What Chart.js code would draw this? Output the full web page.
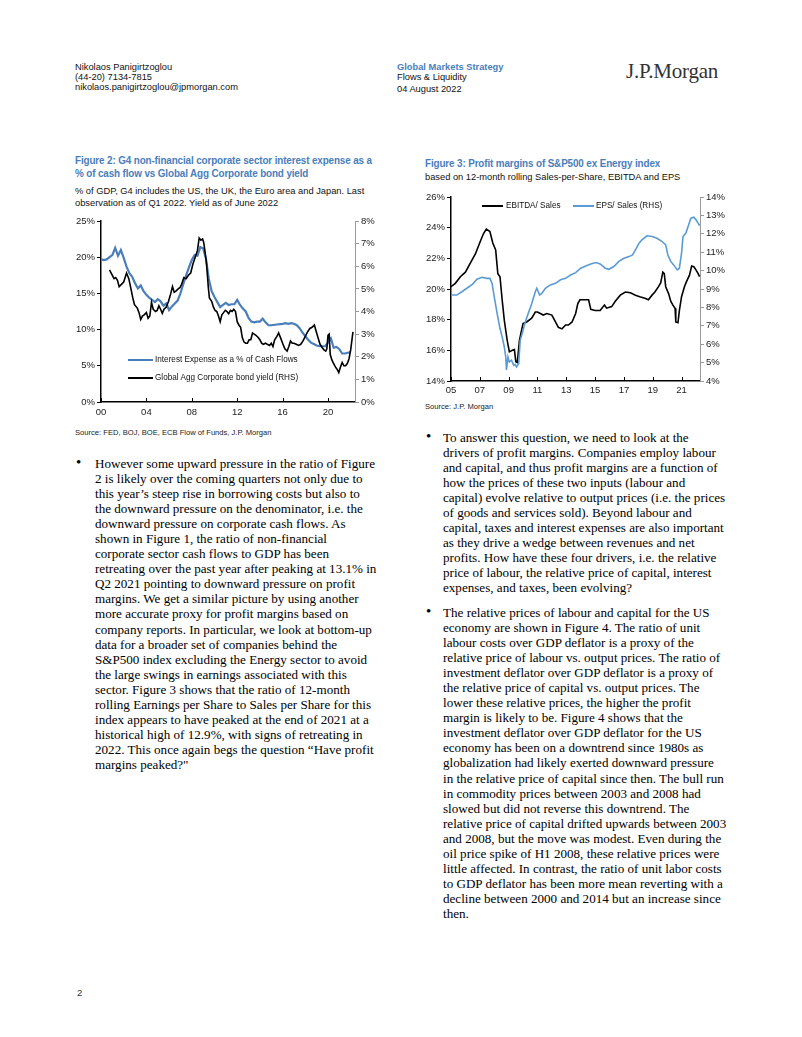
<!DOCTYPE html>
<html>
<head>
<meta charset="utf-8">
<script src="https://cdn.jsdelivr.net/npm/chart.js@4.4.1/dist/chart.umd.min.js"></script>
<style>
  html,body{margin:0;padding:0;background:#fff;}
  body{width:802px;height:1037px;position:relative;overflow:hidden;font-family:"Liberation Sans",Arial,sans-serif;color:#000;}
  .abs{position:absolute;white-space:nowrap;}
  .hdr{font-size:9.3px;line-height:10px;color:#111;}
  .blue{color:#4a7ebb;}
  .ftitle{font-size:10.6px;font-weight:bold;color:#4a7ebb;line-height:12.5px;letter-spacing:-0.15px;transform:scaleX(0.935);transform-origin:0 0;}
  .fsub{font-size:9.3px;line-height:12px;color:#111;}
  .src{font-size:7.6px;color:#222;}
  .body{font-family:"Liberation Serif","Times New Roman",serif;font-size:13.1px;line-height:15.1px;color:#000;}
  .body div{white-space:nowrap;}
  .bullet{font-family:"Liberation Serif",serif;font-size:15px;}
  .leg{font-size:9.2px;color:#111;transform:scaleX(0.89);transform-origin:0 0;}
  .legline{position:absolute;height:2px;}
  canvas{position:absolute;}
</style>
</head>
<body>
<script>
// ---------------- DATA ----------------
// Figure 2: x axis in decimal years
const fig2XTicks = [2000, 2004, 2008, 2012, 2016, 2020];
const fig2LeftTicks = [0, 5, 10, 15, 20, 25];
const fig2RightTicks = [0, 1, 2, 3, 4, 5, 6, 7, 8];
const interestDates = [2000.0,2000.25,2000.5,2000.75,2001.0,2001.25,2001.5,2001.75,2002.0,2002.25,2002.5,2002.75,2003.0,2003.25,2003.5,2003.75,2004.0,2004.25,2004.5,2004.75,2005.0,2005.25,2005.5,2005.75,2006.0,2006.25,2006.5,2006.75,2007.0,2007.25,2007.5,2007.75,2008.0,2008.25,2008.5,2008.75,2009.0,2009.25,2009.5,2009.75,2010.0,2010.25,2010.5,2010.75,2011.0,2011.25,2011.5,2011.75,2012.0,2012.25,2012.5,2012.75,2013.0,2013.25,2013.5,2013.75,2014.0,2014.25,2014.5,2014.75,2015.0,2015.5,2016.0,2016.25,2016.5,2016.75,2017.0,2017.25,2017.5,2017.75,2018.0,2018.25,2018.5,2018.75,2019.0,2019.25,2019.5,2019.75,2020.0,2020.25,2020.5,2020.75,2021.0,2021.25,2021.5,2021.75,2022.0];
const interestValues = [19.7,19.6,19.7,20.0,20.3,21.3,20.2,21.0,19.9,18.7,17.8,17.3,16.4,15.7,16.1,15.3,14.8,14.4,14.1,13.8,14.2,13.9,13.3,13.6,12.7,13.2,13.6,14.0,15.0,16.3,17.5,18.6,19.6,20.3,20.2,21.4,21.2,19.8,17.0,15.3,14.5,13.8,13.1,13.4,13.7,13.4,13.5,13.5,14.1,13.4,12.9,12.5,11.6,11.1,11.0,11.1,11.1,11.5,11.0,10.6,10.6,10.7,10.8,10.9,10.8,10.9,10.8,10.6,10.2,9.6,9.1,8.6,8.2,8.0,7.8,7.7,7.7,7.7,8.2,8.8,7.5,7.6,7.3,6.7,6.7,6.8,6.9];
const yieldDates = [2000.75,2001.0,2001.15,2001.3,2001.45,2001.6,2001.8,2002.0,2002.25,2002.45,2002.6,2002.8,2002.95,2003.2,2003.35,2003.5,2003.65,2003.8,2004.0,2004.15,2004.3,2004.45,2004.6,2004.8,2004.95,2005.1,2005.25,2005.4,2005.55,2005.75,2005.95,2006.15,2006.3,2006.45,2006.6,2006.8,2006.95,2007.1,2007.3,2007.5,2007.7,2007.9,2008.1,2008.3,2008.5,2008.65,2008.8,2008.95,2009.05,2009.15,2009.3,2009.45,2009.55,2009.75,2009.9,2010.05,2010.2,2010.35,2010.5,2010.65,2010.8,2010.95,2011.1,2011.25,2011.4,2011.55,2011.7,2011.85,2012.0,2012.15,2012.3,2012.45,2012.6,2012.75,2012.9,2013.05,2013.2,2013.35,2013.5,2013.65,2013.85,2014.0,2014.15,2014.3,2014.5,2014.65,2014.85,2015.0,2015.15,2015.3,2015.5,2015.65,2015.85,2016.0,2016.2,2016.4,2016.55,2016.7,2016.85,2017.0,2017.2,2017.4,2017.6,2017.8,2018.0,2018.2,2018.4,2018.6,2018.8,2019.0,2019.15,2019.3,2019.5,2019.65,2019.8,2019.9,2020.0,2020.1,2020.2,2020.35,2020.5,2020.65,2020.8,2020.95,2021.1,2021.25,2021.4,2021.55,2021.7,2021.85,2022.0,2022.2];
const yieldValues = [5.84,5.6,5.45,5.5,5.38,5.1,5.2,5.3,5.7,5.45,5.1,4.6,4.3,4.15,3.95,3.65,3.8,3.85,3.95,3.7,3.8,4.4,4.1,4.0,4.05,4.25,4.1,3.92,4.1,4.2,4.45,4.8,5.1,4.85,4.9,5.0,5.05,5.2,5.5,5.45,5.6,5.7,6.1,6.4,6.7,7.25,7.15,7.2,7.05,6.7,6.1,5.1,4.6,4.45,4.2,4.05,4.0,3.8,3.55,3.85,3.95,4.05,4.0,3.9,4.05,4.0,4.1,4.0,3.55,3.4,3.3,2.85,2.65,2.6,2.6,2.75,2.75,3.05,3.0,2.95,2.85,2.75,2.6,2.55,2.6,2.55,2.5,2.6,2.45,2.75,2.9,3.05,2.8,2.6,2.35,2.25,2.45,2.7,2.6,2.6,2.55,2.5,2.55,2.7,2.9,3.1,3.25,3.3,3.4,3.05,2.8,2.55,2.4,2.3,2.25,2.35,2.95,3.0,2.1,1.85,1.7,1.55,1.45,1.3,1.55,1.75,1.6,1.6,1.7,1.9,2.3,3.1];

// Figure 3
const fig3XTicks = [2005, 2007, 2009, 2011, 2013, 2015, 2017, 2019, 2021];
const fig3LeftTicks = [14, 16, 18, 20, 22, 24, 26];
const fig3RightTicks = [4, 5, 6, 7, 8, 9, 10, 11, 12, 13, 14];
const ebitdaDates = [2005.0,2005.3,2005.65,2006.0,2006.35,2006.7,2007.03,2007.25,2007.45,2007.7,2007.9,2008.1,2008.25,2008.4,2008.55,2008.7,2008.9,2009.05,2009.25,2009.4,2009.5,2009.6,2009.75,2009.85,2010.0,2010.25,2010.6,2010.85,2011.0,2011.2,2011.4,2011.65,2012.0,2012.25,2012.45,2012.7,2012.95,2013.15,2013.4,2013.65,2013.8,2013.95,2014.3,2014.55,2014.7,2015.0,2015.35,2015.65,2015.8,2016.15,2016.4,2016.75,2017.1,2017.45,2017.8,2018.1,2018.45,2018.7,2018.95,2019.15,2019.4,2019.55,2019.7,2019.8,2019.9,2020.1,2020.25,2020.4,2020.55,2020.6,2020.75,2020.85,2021.0,2021.2,2021.35,2021.55,2021.7,2021.85,2022.0,2022.15,2022.25];
const ebitdaValues = [20.15,20.37,20.8,21.1,21.7,22.3,23.1,23.6,23.9,23.75,23.0,22.55,21.0,20.8,19.3,17.95,16.65,15.9,16.0,16.05,15.25,15.2,16.65,17.1,17.75,17.85,18.1,18.5,18.5,18.4,18.3,18.4,18.3,17.85,17.5,17.4,17.65,17.65,17.85,18.4,19.05,19.3,19.3,19.3,18.67,18.6,18.6,18.95,18.75,18.85,19.2,19.6,19.8,19.75,19.6,19.5,19.4,19.3,19.6,19.8,20.15,20.4,21.1,21.0,20.15,19.7,19.2,18.95,18.75,17.85,17.8,18.6,19.5,20.15,20.5,20.9,21.5,21.45,21.25,21.0,20.8];
const epsDates = [2005.0,2005.4,2005.75,2006.1,2006.5,2006.8,2007.15,2007.5,2007.7,2007.85,2008.0,2008.2,2008.4,2008.55,2008.7,2008.8,2008.85,2008.95,2009.05,2009.2,2009.35,2009.45,2009.55,2009.7,2009.8,2010.0,2010.15,2010.4,2010.6,2010.85,2010.95,2011.15,2011.3,2011.55,2011.9,2012.25,2012.6,2012.95,2013.3,2013.65,2014.0,2014.35,2014.7,2015.05,2015.35,2015.7,2015.95,2016.3,2016.65,2017.0,2017.35,2017.6,2017.8,2018.05,2018.25,2018.6,2018.95,2019.3,2019.65,2019.9,2020.05,2020.25,2020.45,2020.7,2020.85,2021.0,2021.1,2021.3,2021.5,2021.65,2021.85,2022.0,2022.15,2022.25];
const epsValues = [8.67,8.67,8.85,9.04,9.27,9.53,9.64,9.58,9.58,9.3,8.58,7.67,6.85,6.4,5.85,5.3,4.6,5.3,5.04,5.13,4.85,4.9,4.76,4.95,6.2,6.76,7.2,7.76,8.2,8.85,9.04,8.67,8.76,9.04,9.22,9.31,9.5,9.58,9.76,9.89,10.13,10.25,10.36,10.44,10.36,10.13,10.07,10.22,10.5,10.67,10.76,10.85,11.13,11.49,11.67,11.89,11.85,11.76,11.58,11.4,10.85,10.5,10.31,10.04,10.13,10.95,11.85,12.04,12.5,12.85,12.9,12.76,12.58,12.44];
</script>

<!-- Header -->
<div class="abs hdr" style="left:75px;top:62px;">Nikolaos Panigirtzoglou<br>(44-20) 7134-7815<br>nikolaos.panigirtzoglou@jpmorgan.com</div>
<div class="abs hdr" style="left:397px;top:62px;"><span class="blue" style="font-weight:bold;">Global Markets Strategy</span><br>Flows &amp; Liquidity</div>
<div class="abs hdr" style="left:397px;top:84px;">04 August 2022</div>
<div class="abs" style="left:626px;top:59px;font-family:'Liberation Serif',serif;font-size:21px;color:#333;letter-spacing:-0.2px;">J.P.Morgan</div>

<!-- Figure 2 titles -->
<div class="abs ftitle" style="left:75px;top:154px;">Figure 2: G4 non-financial corporate sector interest expense as a<br>% of cash flow vs Global Agg Corporate bond yield</div>
<div class="abs fsub" style="left:75px;top:185px;">% of GDP, G4 includes the US, the UK, the Euro area and Japan. Last<br>observation as of Q1 2022. Yield as of June 2022</div>
<canvas id="c2" width="322" height="212" style="left:60px;top:212px;width:322px;height:212px;"></canvas>
<div class="legline" style="left:128px;top:359px;width:25px;background:#4a7ebb;"></div>
<div class="abs leg" style="left:155px;top:354px;">Interest Expense as a % of Cash Flows</div>
<div class="legline" style="left:128px;top:377px;width:25px;background:#000;"></div>
<div class="abs leg" style="left:155px;top:372px;">Global Agg Corporate bond yield (RHS)</div>
<div class="abs src" style="left:75px;top:428px;">Source: FED, BOJ, BOE, ECB Flow of Funds, J.P. Morgan</div>

<!-- Figure 3 titles -->
<div class="abs ftitle" style="left:425px;top:157px;">Figure 3: Profit margins of S&amp;P500 ex Energy index</div>
<div class="abs fsub" style="left:425px;top:171px;">based on 12-month rolling Sales-per-Share, EBITDA and EPS</div>
<canvas id="c3" width="320" height="212" style="left:410px;top:188px;width:320px;height:212px;"></canvas>
<div class="legline" style="left:482px;top:205px;width:21px;background:#000;"></div>
<div class="abs leg" style="left:506px;top:200px;">EBITDA/ Sales</div>
<div class="legline" style="left:573px;top:205px;width:21px;background:#5b9bd5;"></div>
<div class="abs leg" style="left:596px;top:200px;">EPS/ Sales (RHS)</div>
<div class="abs src" style="left:425px;top:402px;">Source: J.P. Morgan</div>

<!-- Left column text -->
<div class="abs bullet" style="left:76px;top:455px;line-height:15.1px;">•</div>
<div class="abs body" style="left:95px;top:455.5px;">
<div>However some upward pressure in the ratio of Figure</div>
<div>2 is likely over the coming quarters not only due to</div>
<div>this year’s steep rise in borrowing costs but also to</div>
<div>the downward pressure on the denominator, i.e. the</div>
<div>downward pressure on corporate cash flows. As</div>
<div>shown in Figure 1, the ratio of non-financial</div>
<div>corporate sector cash flows to GDP has been</div>
<div>retreating over the past year after peaking at 13.1% in</div>
<div>Q2 2021 pointing to downward pressure on profit</div>
<div>margins. We get a similar picture by using another</div>
<div>more accurate proxy for profit margins based on</div>
<div>company reports. In particular, we look at bottom-up</div>
<div>data for a broader set of companies behind the</div>
<div>S&amp;P500 index excluding the Energy sector to avoid</div>
<div>the large swings in earnings associated with this</div>
<div>sector. Figure 3 shows that the ratio of 12-month</div>
<div>rolling Earnings per Share to Sales per Share for this</div>
<div>index appears to have peaked at the end of 2021 at a</div>
<div>historical high of 12.9%, with signs of retreating in</div>
<div>2022. This once again begs the question “Have profit</div>
<div>margins peaked?"</div>
</div>

<!-- Right column text -->
<div class="abs bullet" style="left:426px;top:429px;line-height:15.1px;">•</div>
<div class="abs body" style="left:443px;top:429.5px;">
<div>To answer this question, we need to look at the</div>
<div>drivers of profit margins. Companies employ labour</div>
<div>and capital, and thus profit margins are a function of</div>
<div>how the prices of these two inputs (labour and</div>
<div>capital) evolve relative to output prices (i.e. the prices</div>
<div>of goods and services sold). Beyond labour and</div>
<div>capital, taxes and interest expenses are also important</div>
<div>as they drive a wedge between revenues and net</div>
<div>profits. How have these four drivers, i.e. the relative</div>
<div>price of labour, the relative price of capital, interest</div>
<div>expenses, and taxes, been evolving?</div>
</div>
<div class="abs bullet" style="left:426px;top:604px;line-height:15.1px;">•</div>
<div class="abs body" style="left:443px;top:604.5px;">
<div>The relative prices of labour and capital for the US</div>
<div>economy are shown in Figure 4. The ratio of unit</div>
<div>labour costs over GDP deflator is a proxy of the</div>
<div>relative price of labour vs. output prices. The ratio of</div>
<div>investment deflator over GDP deflator is a proxy of</div>
<div>the relative price of capital vs. output prices. The</div>
<div>lower these relative prices, the higher the profit</div>
<div>margin is likely to be. Figure 4 shows that the</div>
<div>investment deflator over GDP deflator for the US</div>
<div>economy has been on a downtrend since 1980s as</div>
<div>globalization had likely exerted downward pressure</div>
<div>in the relative price of capital since then. The bull run</div>
<div>in commodity prices between 2003 and 2008 had</div>
<div>slowed but did not reverse this downtrend. The</div>
<div>relative price of capital drifted upwards between 2003</div>
<div>and 2008, but the move was modest. Even during the</div>
<div>oil price spike of H1 2008, these relative prices were</div>
<div>little affected. In contrast, the ratio of unit labor costs</div>
<div>to GDP deflator has been more mean reverting with a</div>
<div>decline between 2000 and 2014 but an increase since</div>
<div>then.</div>
</div>

<div class="abs" style="left:77px;top:987px;font-size:9.5px;color:#333;">2</div>

<script>
const TICKFONT = {family: "'Liberation Sans', Arial, sans-serif", size: 9.5};
const TICKCOLOR = '#222';

const inwardTicks = {
  id: 'inwardTicks',
  afterDraw(chart) {
    const xs = chart.scales.x, ctx = chart.ctx, b = chart.chartArea.bottom;
    ctx.save();
    ctx.strokeStyle = '#000'; ctx.lineWidth = 1;
    xs.ticks.forEach(t => {
      const px = Math.round(xs.getPixelForValue(t.value)) + 0.5;
      ctx.beginPath(); ctx.moveTo(px, b); ctx.lineTo(px, b - 4); ctx.stroke();
    });
    ctx.restore();
  }
};

function pts(xs, ys) { return xs.map((x, i) => ({x: x, y: ys[i]})); }
function yy(v) { return String(v % 100).padStart(2, '0'); }

function makeChart(id, cfg) {
  return new Chart(document.getElementById(id), {
    type: 'line',
    data: {datasets: cfg.datasets},
    options: {
      responsive: false, animation: false, devicePixelRatio: 1,
      layout: {padding: {top: 9, left: 0, right: 0, bottom: 0}},
      plugins: {legend: {display: false}, tooltip: {enabled: false}},
      elements: {point: {radius: 0}, line: {tension: 0}},
      scales: {
        x: {
          type: 'linear', min: cfg.xMin, max: cfg.xMax,
          afterBuildTicks: s => { s.ticks = cfg.xTicks.map(v => ({value: v})); },
          afterFit: s => { s.height = cfg.xH; },
          ticks: {font: TICKFONT, color: TICKCOLOR, padding: cfg.xPad, maxRotation: 0, autoSkip: false,
                  callback: v => yy(v)},
          grid: {display: true, drawOnChartArea: false, drawTicks: false},
          border: {display: true, color: '#000', width: 1.5}
        },
        yL: {
          type: 'linear', position: 'left', min: cfg.lTicks[0], max: cfg.lTicks[cfg.lTicks.length - 1],
          afterBuildTicks: s => { s.ticks = cfg.lTicks.map(v => ({value: v})); },
          afterFit: s => { s.width = 41; },
          ticks: {font: TICKFONT, color: TICKCOLOR, padding: 2, callback: v => v + '%'},
          grid: {display: true, drawOnChartArea: false, drawTicks: true, tickLength: 4, color: '#000'},
          border: {display: true, color: '#000', width: 1.5}
        },
        yR: {
          type: 'linear', position: 'right', min: cfg.rTicks[0], max: cfg.rTicks[cfg.rTicks.length - 1],
          afterBuildTicks: s => { s.ticks = cfg.rTicks.map(v => ({value: v})); },
          afterFit: s => { s.width = cfg.rW; },
          ticks: {font: TICKFONT, color: TICKCOLOR, padding: 2, callback: v => v + '%'},
          grid: {display: true, drawOnChartArea: false, drawTicks: true, tickLength: 4, color: '#999'},
          border: {display: true, color: '#999', width: 1}
        }
      }
    },
    plugins: [inwardTicks]
  });
}

makeChart('c2', {
  xMin: 2000, xMax: 2022.38, xTicks: fig2XTicks, xH: 22, rW: 27, xPad: 5,
  lTicks: fig2LeftTicks, rTicks: fig2RightTicks,
  datasets: [
    {label: 'Global Agg Corporate bond yield (RHS)', data: pts(yieldDates, yieldValues), yAxisID: 'yR',
     borderColor: '#000', borderWidth: 1.6, order: 1},
    {label: 'Interest Expense as a % of Cash Flows', data: pts(interestDates, interestValues), yAxisID: 'yL',
     borderColor: '#4a7ebb', borderWidth: 2.2, order: 2}
  ]
});

makeChart('c3', {
  xMin: 2005, xMax: 2022.28, xTicks: fig3XTicks, xH: 19, rW: 30, xPad: 4,
  lTicks: fig3LeftTicks, rTicks: fig3RightTicks,
  datasets: [
    {label: 'EBITDA/ Sales', data: pts(ebitdaDates, ebitdaValues), yAxisID: 'yL',
     borderColor: '#000', borderWidth: 1.6, order: 2},
    {label: 'EPS/ Sales (RHS)', data: pts(epsDates, epsValues), yAxisID: 'yR',
     borderColor: '#5b9bd5', borderWidth: 1.6, order: 1}
  ]
});
</script>
</body>
</html>
